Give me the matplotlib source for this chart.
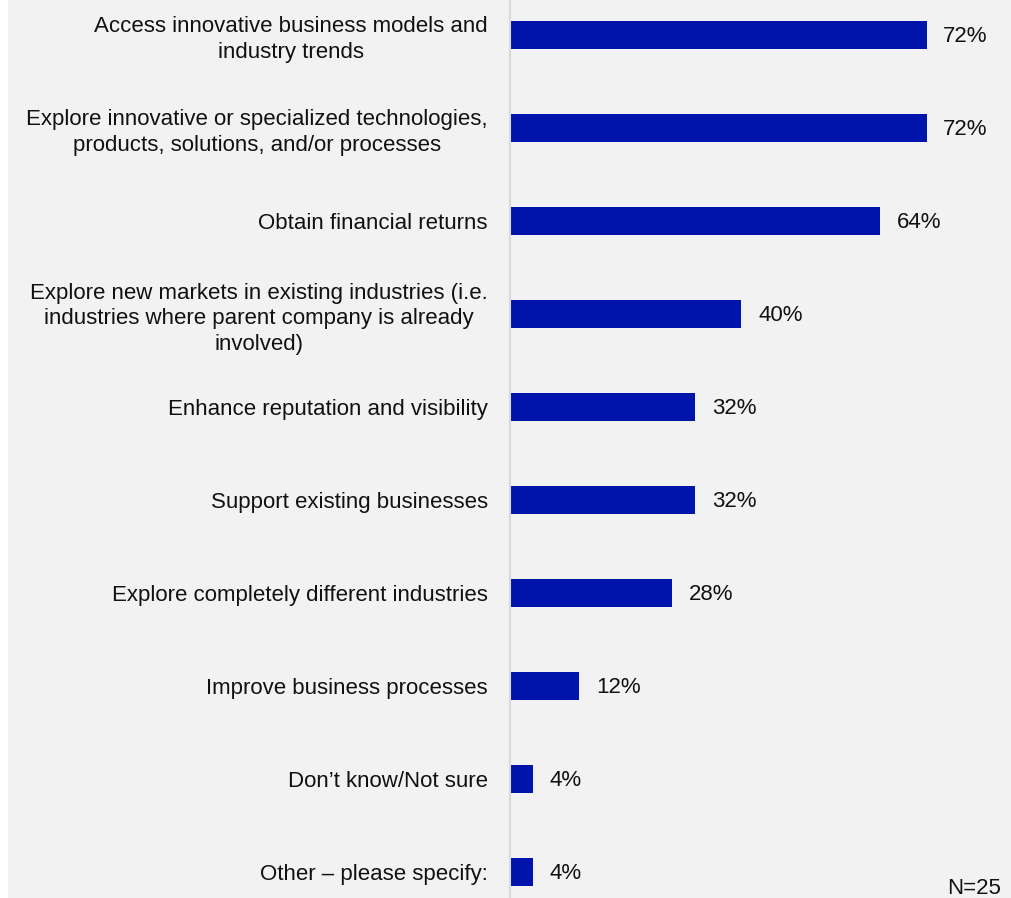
import matplotlib
matplotlib.use('Agg')
import matplotlib.pyplot as plt
from matplotlib.patches import Rectangle

plt.rcParams['font.family'] = ['Liberation Sans', 'DejaVu Sans']

labels = [
    'Access innovative business models and\nindustry trends',
    'Explore innovative or specialized technologies,\nproducts, solutions, and/or processes',
    'Obtain financial returns',
    'Explore new markets in existing industries (i.e.\nindustries where parent company is already\ninvolved)',
    'Enhance reputation and visibility',
    'Support existing businesses',
    'Explore completely different industries',
    'Improve business processes',
    'Don\u2019t know/Not sure',
    'Other \u2013 please specify:',
]
values = [72, 72, 64, 40, 32, 32, 28, 12, 4, 4]
sample_note = 'N=25'

bg = '#F2F2F2'
bar_color = '#0014AC'
txt = '#111111'

fig = plt.figure(figsize=(10.11, 8.98), dpi=100)
fig.patch.set_facecolor(bg)
# thin white strip down the left edge
fig.add_artist(Rectangle((0, 0), 8 / 1011, 1, transform=fig.transFigure,
                         facecolor='white', edgecolor='none'))

ax = fig.add_axes([510 / 1011, 0, 1 - 510 / 1011, 1])
ax.set_facecolor(bg)

pos = list(range(len(values)))
ax.barh(pos, values, height=0.31, color=bar_color)

for y, v in zip(pos, values):
    ax.annotate(f'{v}%', xy=(v, y), xytext=(12, -1), textcoords='offset points',
                ha='left', va='center', fontsize=16, color=txt)

ax.set_xlim(0, 86.6)
ax.set_ylim(9.28, -0.376)
ax.set_yticks(pos)
ax.set_yticklabels(labels, fontsize=16, color=txt, multialignment='center',
                   linespacing=1.3)
ax.tick_params(axis='y', length=0, pad=16)
ax.set_xticks([])

for s in ['top', 'right', 'bottom']:
    ax.spines[s].set_visible(False)
ax.spines['left'].set_color('#D9D9D9')
ax.spines['left'].set_linewidth(1.5)

fig.text(1001 / 1011, 1 - 888 / 898, sample_note, ha='right', va='center',
         fontsize=16, color=txt)

plt.savefig('out.png', dpi=100, facecolor=fig.get_facecolor())
